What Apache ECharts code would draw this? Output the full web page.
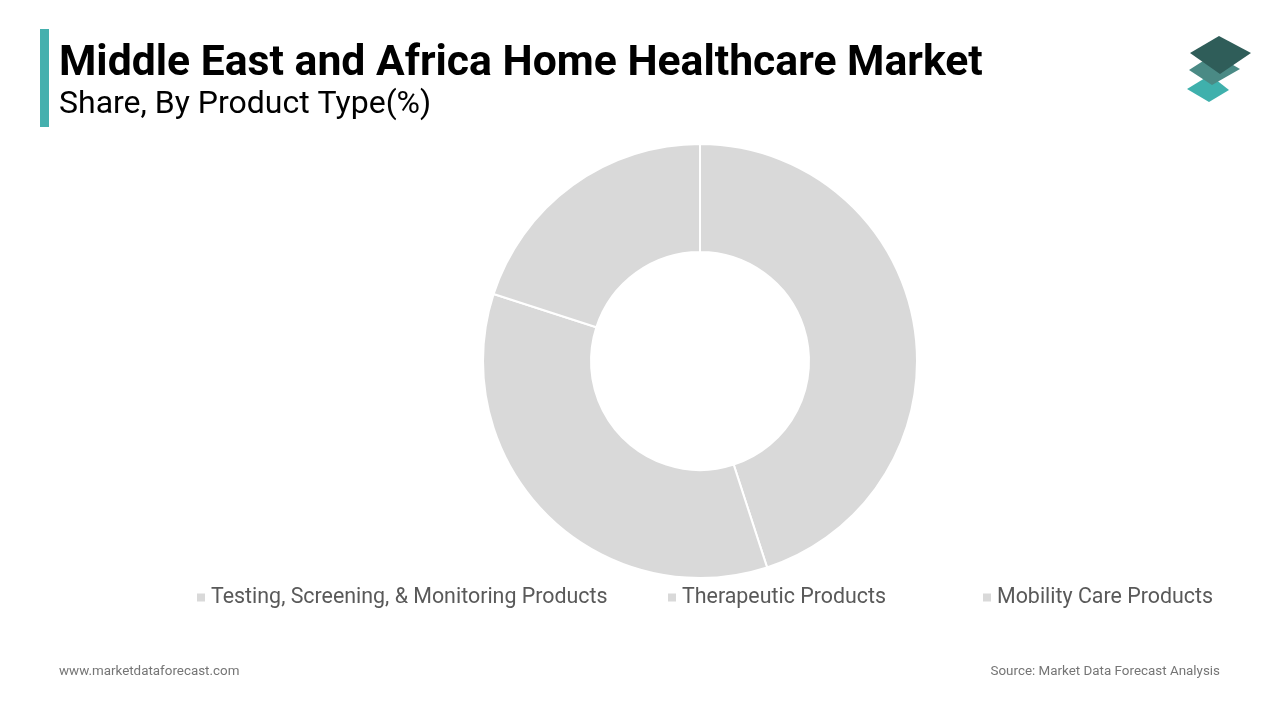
<!DOCTYPE html>
<html>
<head>
<meta charset="utf-8">
<script src="https://cdn.jsdelivr.net/npm/echarts@6/dist/echarts.min.js"></script>
<style>
  html, body { margin: 0; padding: 0; background: #fff; }
  #chart { width: 1280px; height: 720px; }
</style>
</head>
<body>
<div id="chart"></div>
<script>
// Product type shares (%), read from the donut
const categories = ['Testing, Screening, & Monitoring Products', 'Therapeutic Products', 'Mobility Care Products'];
const shares = [45, 35, 20];
const legendLeft = [190, 661, 976];

const chart = echarts.init(document.getElementById('chart'));

const sliceColor = '#d9d9d9';

const option = {
  animation: false,
  textStyle: { fontFamily: 'Roboto' },
  legend: categories.map((name, i) => ({
    data: [name],
    left: legendLeft[i],
    top: 582,
    icon: 'rect',
    itemWidth: 10,
    itemHeight: 10,
    itemGap: 8,
    textStyle: { fontSize: 21.4, color: '#595959', fontFamily: 'Roboto' },
    selectedMode: false
  })),
  series: [
    {
      type: 'pie',
      center: [700, 361],
      radius: [109, 217],
      startAngle: 90,
      clockwise: true,
      label: { show: false },
      labelLine: { show: false },
      emphasis: { disabled: true },
      itemStyle: { color: sliceColor, borderColor: '#fff', borderWidth: 2 },
      data: categories.map((name, i) => ({ name: name, value: shares[i] }))
    }
  ],
  graphic: [
    // accent bar next to the title
    { type: 'rect', shape: { x: 40, y: 29, width: 9, height: 98 }, style: { fill: '#45b0ae' } },
    {
      type: 'text', left: 59, top: 43,
      style: { text: 'Middle East and Africa Home Healthcare Market', fontSize: 42.7, fontWeight: 'bold', fill: '#000', fontFamily: 'Roboto' }
    },
    {
      type: 'text', left: 59, top: 89,
      style: { text: 'Share, By Product Type(%)', fontSize: 32, fill: '#000', fontFamily: 'Roboto' }
    },
    // logo: three stacked diamonds
    { type: 'polygon', shape: { points: [[1187, 89], [1210, 75], [1229, 90], [1209, 102]] }, style: { fill: '#3fb0ac' } },
    { type: 'polygon', shape: { points: [[1189, 70], [1214, 54], [1240, 69], [1212, 85]] }, style: { fill: '#4a8a85' } },
    { type: 'polygon', shape: { points: [[1190, 53], [1219, 36], [1251, 53], [1220, 74]] }, style: { fill: '#2f5d59' } },
    {
      type: 'text', left: 59, top: 665,
      style: { text: 'www.marketdataforecast.com', fontSize: 13.4, fill: '#757575', fontFamily: 'Roboto' }
    },
    {
      type: 'text', right: 60, top: 665,
      style: { text: 'Source: Market Data Forecast Analysis', fontSize: 13.4, fill: '#757575', fontFamily: 'Roboto' }
    }
  ]
};

chart.setOption(option);
</script>
</body>
</html>
